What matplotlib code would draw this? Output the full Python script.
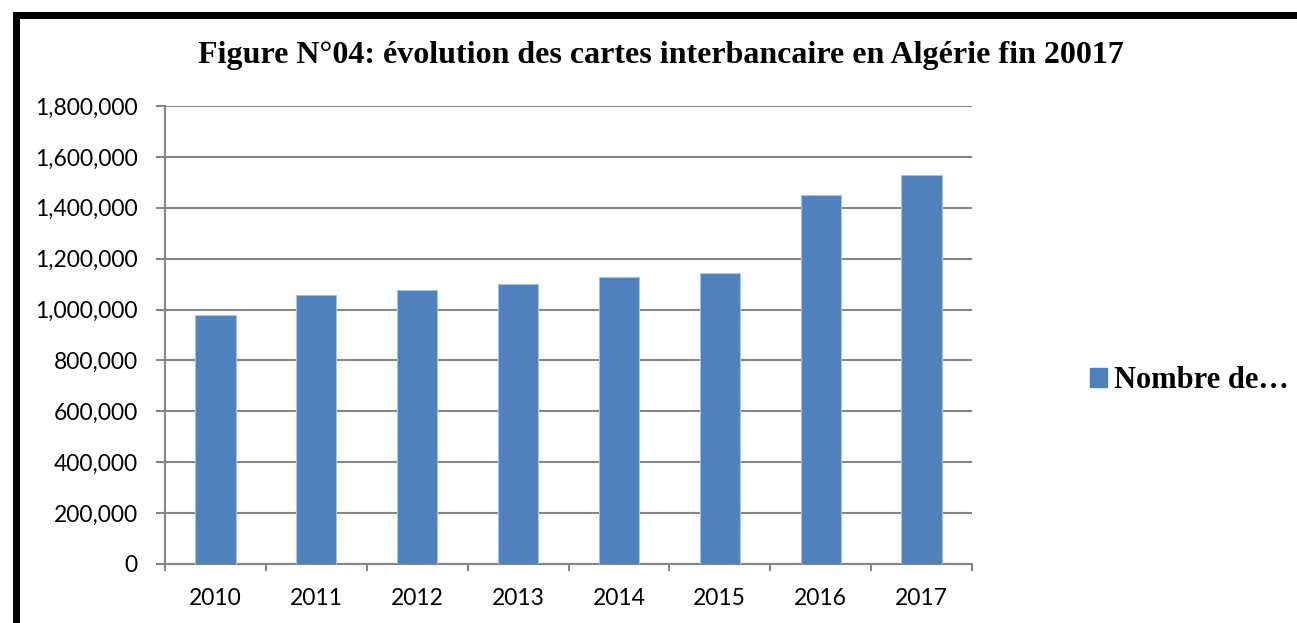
import numpy as np
import matplotlib.pyplot as plt
from matplotlib.patches import Rectangle, Patch
from matplotlib.ticker import FuncFormatter

# data
years = ['2010', '2011', '2012', '2013', '2014', '2015', '2016', '2017']
cards = [978000, 1056000, 1076000, 1099000, 1127000, 1142000, 1450000, 1529000]
series_name = 'Nombre de…'
title = 'Figure N°04: évolution des cartes interbancaire en Algérie fin 20017'

W, H, DPI = 1297, 623, 100
PT = 72 / DPI  # points per pixel
fig = plt.figure(figsize=(W / DPI, H / DPI), dpi=DPI)
fig.patch.set_facecolor('white')

# plot area in pixel coords: x 165..972, y 106..564
ax = fig.add_axes([165 / W, 1 - 564 / H, (972 - 165) / W, (564 - 106) / H])

grid_c = '#868686'
x = np.arange(len(years))
ax.bar(x, cards, width=0.4, color='#4F81BD', edgecolor='#a7c1e3', linewidth=0.8, zorder=3)

ax.set_xlim(-0.5, len(years) - 0.5)
ax.set_ylim(0, 1800000)
ax.set_yticks(np.arange(0, 1800001, 200000))
ax.yaxis.set_major_formatter(FuncFormatter(lambda v, p: f'{int(v):,}'))
ax.yaxis.grid(True, color=grid_c, linewidth=1.5, zorder=0)

ax.set_xticks(x)
ax.set_xticklabels(years)
ax.set_xticks(np.arange(-0.5, len(years)), minor=True)
ax.tick_params(axis='x', which='major', length=0, pad=24 * PT)
ax.tick_params(axis='x', which='minor', length=7 * PT, width=1.5, color=grid_c)
ax.tick_params(axis='y', length=9 * PT, width=1.5, color=grid_c, pad=18 * PT)

for lbl in ax.get_xticklabels() + ax.get_yticklabels():
    lbl.set_fontfamily('Lato')
    lbl.set_fontsize(16.5)

for side in ['top', 'right']:
    ax.spines[side].set_visible(False)
for side in ['left', 'bottom']:
    ax.spines[side].set_color(grid_c)
    ax.spines[side].set_linewidth(1.5)

fig.text(661 / W, 1 - 56 / H, title, ha='center', va='center',
         fontfamily='Liberation Serif', fontweight='bold', fontsize=23)

handle = Patch(facecolor='#4F81BD', edgecolor='#4F81BD')
fig.legend([handle], [series_name], loc='center left',
           bbox_to_anchor=(1090 / W, 1 - 381 / H), frameon=False,
           handlelength=0.55, handleheight=0.55, handletextpad=0.25,
           borderpad=0, borderaxespad=0,
           prop={'family': 'Liberation Serif', 'weight': 'bold', 'size': 22})

# thick black frame, running off the right and bottom edges
frame = Rectangle((15.5 / W, -0.1), 1.2, 1 - 15.5 / H + 0.1, transform=fig.transFigure,
                  fill=False, edgecolor='black', linewidth=7 * PT)
fig.add_artist(frame)

fig.savefig('out.png', dpi=DPI)
